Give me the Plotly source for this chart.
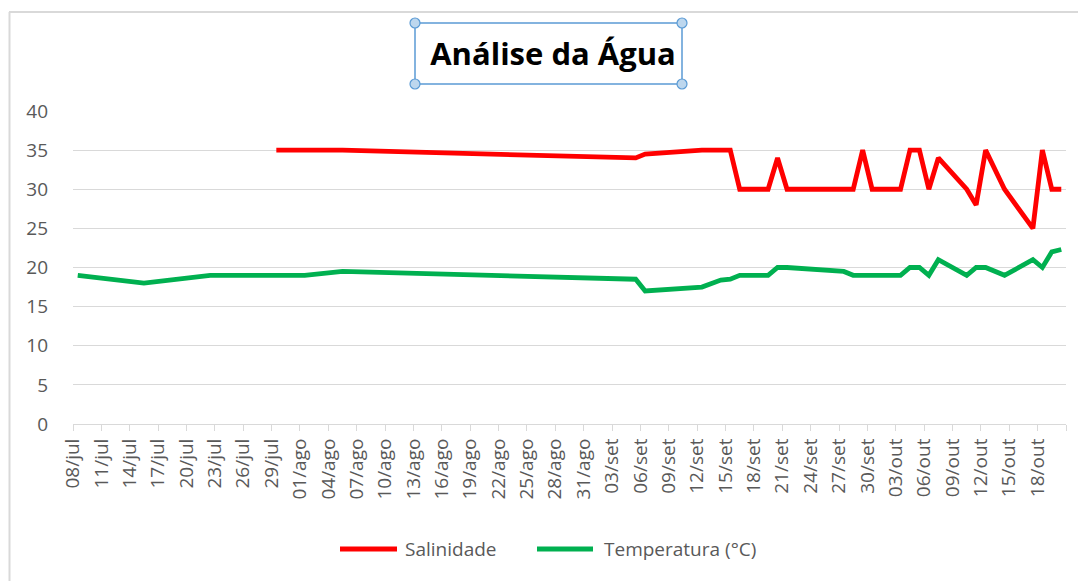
import pandas as pd
import plotly.graph_objects as go

# ---- data ----
datas = ["2023-07-08", "2023-07-15", "2023-07-22", "2023-07-29", "2023-08-01", "2023-08-05",
         "2023-09-05", "2023-09-06", "2023-09-12", "2023-09-14", "2023-09-15", "2023-09-16",
         "2023-09-19", "2023-09-20", "2023-09-21", "2023-09-27", "2023-09-28", "2023-09-29",
         "2023-09-30", "2023-10-03", "2023-10-04", "2023-10-05", "2023-10-06", "2023-10-07",
         "2023-10-10", "2023-10-11", "2023-10-12", "2023-10-14", "2023-10-17", "2023-10-18",
         "2023-10-19", "2023-10-20"]
salinidade = [None, None, None, 35, 35, 35,
              34, 34.5, 35, 35, 35, 30,
              30, 34, 30, 30, 30, 35,
              30, 30, 35, 35, 30, 34,
              30, 28, 35, 30, 25, 35,
              30, 30]
temperatura = [19, 18, 19, 19, 19, 19.5,
               18.5, 17, 17.5, 18.4, 18.5, 19,
               19, 20, 20, 19.5, 19, 19,
               19, 19, 20, 20, 19, 21,
               19, 20, 20, 19, 21, 20,
               22, 22.3]
tick_labels = ["08/jul", "11/jul", "14/jul", "17/jul", "20/jul", "23/jul", "26/jul", "29/jul",
               "01/ago", "04/ago", "07/ago", "10/ago", "13/ago", "16/ago", "19/ago", "22/ago",
               "25/ago", "28/ago", "31/ago", "03/set", "06/set", "09/set", "12/set", "15/set",
               "18/set", "21/set", "24/set", "27/set", "30/set", "03/out", "06/out", "09/out",
               "12/out", "15/out", "18/out"]
series_names = ["Salinidade", "Temperatura (°C)"]
series_colors = ["#FF0000", "#00B050"]
titulo = "Análise da Água"

x = pd.to_datetime(datas)
half = pd.Timedelta(hours=12)
start = x[0] - half
end = x[-1] + half
tickvals = [start + pd.Timedelta(days=3 * i) for i in range(len(tick_labels) + 1)]
ticktext = tick_labels + [""]

FONT = "Open Sans"
GREY = "#595959"
GRID = "#d9d9d9"

fig = go.Figure()
for name, vals, col in zip(series_names, [salinidade, temperatura], series_colors):
    fig.add_trace(go.Scatter(x=x, y=vals, name=name, mode="lines", connectgaps=True,
                             showlegend=False, line=dict(color=col, width=4.8)))

OFF = 8  # page body margin
W, H = 1086 - OFF, 581 - OFF
L, R, T, B = 73 - OFF, 20, 111 - OFF, 581 - 424
pw, ph = W - L - R, H - T - B


def px(xs):
    return (xs - OFF - L) / pw


def py(ys):
    return (H - B - (ys - OFF)) / ph


shapes = [
    dict(type="line", xref="paper", yref="paper", x0=px(9), x1=px(1095), y0=py(12), y1=py(12),
         line=dict(color="#d9d9d9", width=2)),
    dict(type="line", xref="paper", yref="paper", x0=px(9.5), x1=px(9.5), y0=py(12), y1=py(590),
         line=dict(color="#d9d9d9", width=2)),
    dict(type="rect", xref="paper", yref="paper", x0=px(415), x1=px(682), y0=py(84), y1=py(23),
         line=dict(color="#5B9BD5", width=1.5)),
]
for cx in (415, 682):
    for cy in (23, 84):
        shapes.append(dict(type="circle", xref="paper", yref="paper",
                           xsizemode="pixel", ysizemode="pixel",
                           xanchor=px(cx), yanchor=py(cy),
                           x0=-5, x1=5, y0=-5, y1=5,
                           fillcolor="#BDD7EE", line=dict(color="#5B9BD5", width=1.2)))

# custom legend (long line samples like the original)
annotations = []
leg_y = py(549)
for (lx0, lx1, tx), name, col in zip([(340, 397, 403), (537, 593, 602)], series_names, series_colors):
    shapes.append(dict(type="line", xref="paper", yref="paper", x0=px(lx0), x1=px(lx1),
                       y0=leg_y, y1=leg_y, line=dict(color=col, width=4.8)))
    annotations.append(dict(text=name, xref="paper", yref="paper", x=px(tx), y=leg_y,
                            xanchor="left", yanchor="middle", showarrow=False,
                            font=dict(family=FONT, size=19, color=GREY)))

fig.update_layout(
    width=W, height=H, autosize=False,
    margin=dict(l=L, r=R, t=T, b=B),
    paper_bgcolor="white", plot_bgcolor="white",
    font=dict(family=FONT, color=GREY, size=19),
    title=dict(text="<b>" + titulo + "</b>", xref="paper", x=px(553), xanchor="center",
               yref="container", y=1 - (54 - OFF) / H, yanchor="middle",
               font=dict(family=FONT, size=31, color="#000000")),
    showlegend=False,
    shapes=shapes,
    annotations=annotations,
)
fig.update_xaxes(type="date", range=[start, end], tickmode="array",
                 tickvals=tickvals, ticktext=ticktext, tickangle=-90,
                 showgrid=False, showline=True, linecolor=GRID, linewidth=1,
                 ticks="outside", ticklen=6, tickcolor=GRID,
                 tickfont=dict(family=FONT, size=19, color=GREY), zeroline=False)
fig.update_yaxes(range=[0, 40], tick0=0, dtick=5, showgrid=True, gridcolor=GRID, gridwidth=1,
                 showline=False, zeroline=False, ticks="", ticklabelstandoff=24,
                 tickfont=dict(family=FONT, size=19, color=GREY))

fig.write_html("out.html")
